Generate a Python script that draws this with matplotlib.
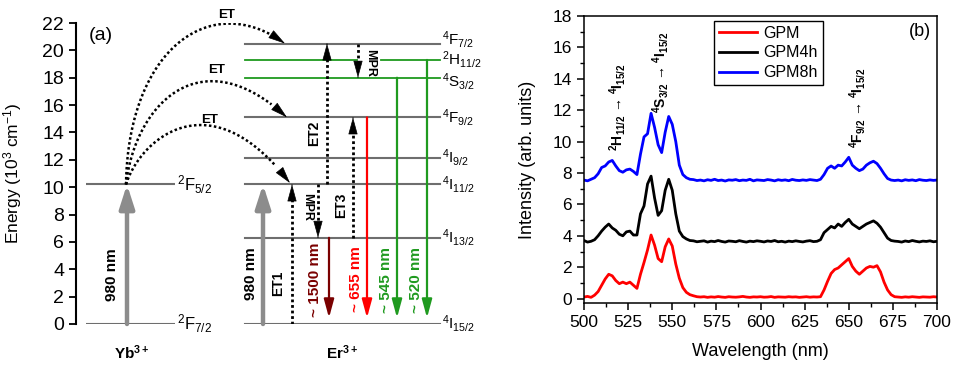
import numpy as np
import matplotlib.pyplot as plt

plt.rcParams['font.family'] = ['Liberation Sans', 'DejaVu Sans']
plt.rcParams['mathtext.default'] = 'regular'

# ---- energy levels (10^3 cm^-1) ----
yb_levels = [0.0, 10.2]
yb_names = [r'$^2$F$_{7/2}$', r'$^2$F$_{5/2}$']
er_levels = [0.0, 6.3, 10.2, 12.15, 15.1, 18.0, 19.3, 20.5]
er_names = [r'$^4$I$_{15/2}$', r'$^4$I$_{13/2}$', r'$^4$I$_{11/2}$', r'$^4$I$_{9/2}$',
            r'$^4$F$_{9/2}$', r'$^4$S$_{3/2}$', r'$^2$H$_{11/2}$', r'$^4$F$_{7/2}$']
emission_labels = ['~ 1500 nm', '~ 655 nm', '~ 545 nm', '~ 520 nm']

# ---- emission spectra ----
wavelength = np.arange(500, 702, 2)
gpm = [0.10, 0.14, 0.08, 0.22, 0.45, 0.85, 1.25, 1.55, 1.45, 1.15,
       0.95, 1.05, 0.95, 1.05, 0.85, 0.65, 1.55, 2.30, 3.10, 4.05,
       3.40, 2.55, 2.35, 3.30, 3.80, 3.35, 2.20, 1.30, 0.70, 0.40,
       0.25, 0.18, 0.12,
       0.10, 0.12, 0.08, 0.11, 0.09, 0.13, 0.10, 0.08, 0.12, 0.10,
       0.09, 0.11, 0.14, 0.10, 0.08, 0.11, 0.10, 0.12, 0.09, 0.10,
       0.13, 0.08, 0.11, 0.10, 0.09, 0.12, 0.10, 0.11, 0.08, 0.10,
       0.12, 0.09, 0.11, 0.10,
       0.12, 0.55, 1.10, 1.60, 1.85, 1.95, 2.15, 2.35, 2.55, 2.05,
       1.75, 1.55, 1.75, 1.95, 2.05, 2.00, 2.10, 1.70, 1.05, 0.55,
       0.25, 0.12,
       0.10, 0.08, 0.11, 0.09, 0.12, 0.10, 0.08, 0.11, 0.10, 0.09, 0.12, 0.10]
gpm4h = [3.70, 3.60, 3.65, 3.75, 4.00, 4.30, 4.55, 4.75, 4.50, 4.35,
         4.10, 4.00, 4.25, 4.30, 4.05, 4.05, 5.40, 5.90, 7.30, 7.80,
         6.40, 5.30, 5.60, 6.90, 7.60, 6.90, 5.40, 4.30, 3.95, 3.80,
         3.70, 3.68, 3.62,
         3.65, 3.68, 3.60, 3.66, 3.63, 3.70, 3.64, 3.60, 3.67, 3.65,
         3.62, 3.69, 3.64, 3.60, 3.66, 3.63, 3.68, 3.65, 3.61, 3.67,
         3.64, 3.70, 3.62, 3.65, 3.60, 3.66, 3.63, 3.68, 3.64, 3.61,
         3.66, 3.69, 3.63, 3.65,
         3.75, 4.20, 4.40, 4.60, 4.50, 4.75, 4.60, 4.85, 5.05, 4.75,
         4.60, 4.45, 4.60, 4.75, 4.85, 4.95, 4.80, 4.55, 4.20, 3.85,
         3.70, 3.66,
         3.64, 3.60, 3.67, 3.63, 3.70, 3.65, 3.61, 3.66, 3.64, 3.68, 3.62, 3.65]
gpm8h = [7.55, 7.50, 7.60, 7.70, 7.95, 8.35, 8.45, 8.70, 8.80, 8.45,
         8.15, 8.05, 8.20, 8.25, 8.10, 7.90, 9.20, 10.30, 10.50, 11.80,
         10.90, 9.80, 9.30, 10.60, 11.60, 11.10, 10.00, 8.50, 7.90, 7.70,
         7.60, 7.58, 7.52,
         7.55, 7.50, 7.57, 7.53, 7.60, 7.52, 7.55, 7.49, 7.56, 7.54,
         7.58, 7.51, 7.55, 7.53, 7.60, 7.50, 7.56, 7.54, 7.52, 7.58,
         7.55, 7.50, 7.57, 7.53, 7.56, 7.51, 7.59, 7.54, 7.52, 7.56,
         7.53, 7.58, 7.55, 7.52,
         7.60, 7.90, 8.30, 8.45, 8.30, 8.50, 8.45, 8.70, 9.00, 8.50,
         8.30, 8.15, 8.25, 8.50, 8.65, 8.75, 8.60, 8.30, 7.95, 7.65,
         7.55, 7.52,
         7.55, 7.50, 7.57, 7.53, 7.56, 7.51, 7.58, 7.54, 7.52, 7.56, 7.53, 7.55]
series_names = ['GPM', 'GPM4h', 'GPM8h']
series_colors = ['#ff0000', '#000000', '#0000ff']

GREY = '#6e6e6e'
GREEN = '#1f9a1f'
RED = '#ff0000'
DARKRED = '#7a0000'


def solid_arrow(ax, x, y0, y1, color, lw, hw, hl):
    ax.annotate('', xy=(x, y1), xytext=(x, y0),
                arrowprops=dict(arrowstyle='-|>,head_width={},head_length={}'.format(hw, hl),
                                color=color, lw=lw, shrinkA=0, shrinkB=0))


def dotted_arrow(ax, x, y0, y1, hl_data=0.9):
    # dotted shaft, solid head
    sign = 1 if y1 > y0 else -1
    ax.plot([x, x], [y0, y1 - sign * hl_data], ls=(0, (1, 1)), lw=2.0, color='k')
    ax.annotate('', xy=(x, y1), xytext=(x, y1 - sign * 0.05),
                arrowprops=dict(arrowstyle='-|>,head_width=0.3,head_length=1.1',
                                color='k', lw=0.5, shrinkA=0, shrinkB=0))


def et_curve(ax, p0, p1, p2, p3):
    t = np.linspace(0, 1, 200)[:, None]
    pts = ((1 - t) ** 3 * np.array(p0) + 3 * t * (1 - t) ** 2 * np.array(p1)
           + 3 * t ** 2 * (1 - t) * np.array(p2) + t ** 3 * np.array(p3))
    ax.plot(pts[:-12, 0], pts[:-12, 1], ls=(0, (1, 1)), lw=1.8, color='k')
    ax.annotate('', xy=tuple(pts[-1]), xytext=tuple(pts[-8]),
                arrowprops=dict(arrowstyle='-|>,head_width=0.3,head_length=1.1',
                                color='k', lw=0.5, shrinkA=0, shrinkB=0))


fig = plt.figure(figsize=(9.6, 3.65), dpi=100)

# ================= (a) energy level diagram =================
ax = fig.add_axes([76 / 960, 1 - 324 / 365, 384 / 960, 301 / 365])
ax.set_xlim(76, 460)
ax.set_ylim(0, 22)
for s in ['top', 'right', 'bottom']:
    ax.spines[s].set_visible(False)
ax.spines['left'].set_linewidth(1.5)
ax.set_xticks([])
ax.set_yticks(np.arange(0, 23, 2))
ax.tick_params(axis='y', direction='out', length=5, width=1.3, labelsize=14)
ax.set_ylabel(r'Energy (10$^3$ cm$^{-1}$)', fontsize=12.5)
ax.yaxis.set_label_coords(-0.135, 0.5)
ax.text(101, 21.1, '(a)', fontsize=14, ha='center', va='center')

# Yb levels
for e, name in zip(yb_levels, yb_names):
    ax.plot([86, 175], [e, e], color=GREY, lw=1.5, solid_capstyle='butt')
    ax.text(177, e, name, fontsize=12, va='center', ha='left', clip_on=False)

# Er levels; the three top labels are spread a little so they stack cleanly
label_shift = {r'$^4$F$_{7/2}$': 0.3, r'$^4$S$_{3/2}$': -0.25}
for e, name in zip(er_levels, er_names):
    if name in (r'$^4$S$_{3/2}$', r'$^2$H$_{11/2}$'):
        col = GREEN
    else:
        col = GREY
    if name == r'$^2$H$_{11/2}$':
        ax.plot([245, 357], [e, e], color=col, lw=1.3)
        ax.plot([381, 440], [e, e], color=col, lw=1.3)
    else:
        ax.plot([245, 440], [e, e], color=col, lw=1.5 if col == GREY else 1.3)
    ax.text(442, e + label_shift.get(name, 0), name, fontsize=11, va='center', ha='left',
            clip_on=False)

# pump arrows
solid_arrow(ax, 127, yb_levels[0], yb_levels[1], '#8c8c8c', 3.2, 0.45, 1.4)
ax.text(112, 3.6, '980 nm', rotation=90, fontsize=11, fontweight='bold', ha='center', va='center')
solid_arrow(ax, 263, er_levels[0], er_levels[2], '#8c8c8c', 3.2, 0.45, 1.4)
ax.text(251, 3.65, '980 nm', rotation=90, fontsize=11, fontweight='bold', ha='center', va='center')

# energy transfer from Yb
et_curve(ax, (126, 10.2), (128, 20.0), (210, 24.5), (285, er_levels[7]))
et_curve(ax, (126, 10.2), (135, 16.0), (200, 21.0), (287, er_levels[4]))
et_curve(ax, (126, 10.2), (140, 13.5), (210, 18.0), (290, er_levels[2] + 0.1))
ax.text(227, 22.6, 'ET', fontsize=9.5, fontweight='bold', ha='center', va='center')
ax.text(217, 18.55, 'ET', fontsize=9.5, fontweight='bold', ha='center', va='center')
ax.text(210, 14.9, 'ET', fontsize=9.5, fontweight='bold', ha='center', va='center')

# ET / MPR steps in Er
dotted_arrow(ax, 292, er_levels[0], er_levels[2])
ax.text(278, 3.0, 'ET1', rotation=90, fontsize=10, fontweight='bold', ha='center', va='center')
dotted_arrow(ax, 327, er_levels[2], er_levels[7])
ax.text(314, 13.9, 'ET2', rotation=90, fontsize=10, fontweight='bold', ha='center', va='center')
dotted_arrow(ax, 353, er_levels[1], er_levels[4])
ax.text(341, 8.7, 'ET3', rotation=90, fontsize=10, fontweight='bold', ha='center', va='center')
dotted_arrow(ax, 318, er_levels[2], er_levels[1])
ax.text(307, 8.55, 'MPR', rotation=-90, fontsize=9, fontweight='bold', ha='center', va='center')
dotted_arrow(ax, 358, er_levels[7], er_levels[5])
ax.text(370, 19.1, 'MPR', rotation=-90, fontsize=9, fontweight='bold', ha='center', va='center')

# emissions to ground state
emit_x = [329, 367, 397, 427]
emit_from = [er_levels[1], er_levels[4], er_levels[5], er_levels[6]]
emit_col = [DARKRED, RED, GREEN, GREEN]
text_x = [315, 356, 386, 416]
for x, e, c, tx, lab in zip(emit_x, emit_from, emit_col, text_x, emission_labels):
    solid_arrow(ax, x, e, 0.45, c, 1.6, 0.3, 1.1)
    ax.text(tx, 3.25, lab, rotation=90, fontsize=11, fontweight='bold', color=c,
            ha='center', va='center')

ax.text(132, -2.1, r'Yb$^{3+}$', fontsize=11, fontweight='bold', ha='center', va='center', clip_on=False)
ax.text(342, -2.1, r'Er$^{3+}$', fontsize=11, fontweight='bold', ha='center', va='center', clip_on=False)

# ================= (b) spectra =================
bx = fig.add_axes([584 / 960, 1 - 303 / 365, 353 / 960, 287 / 365])
for ys, name, col in zip([gpm, gpm4h, gpm8h], series_names, series_colors):
    bx.plot(wavelength, ys, color=col, lw=2.0, label=name)
bx.set_xlim(500, 700)
bx.set_ylim(-0.28, 18)
bx.set_xticks(np.arange(500, 701, 25))
bx.set_xticks(np.arange(500, 701, 12.5), minor=True)
bx.set_yticks(np.arange(0, 19, 2))
bx.set_yticks(np.arange(0, 19, 1), minor=True)
bx.tick_params(which='major', direction='out', length=5, width=1.1, labelsize=12.5)
bx.tick_params(which='minor', direction='out', length=3, width=1.0)
for s in bx.spines.values():
    s.set_linewidth(1.1)
bx.set_xlabel('Wavelength (nm)', fontsize=13)
bx.set_ylabel('Intensity (arb. units)', fontsize=13)
bx.xaxis.set_label_coords(0.5, -0.14)
bx.yaxis.set_label_coords(-0.135, 0.5)

leg = bx.legend(loc='upper left', bbox_to_anchor=(0.368, 0.983), borderaxespad=0,
                fontsize=11.5, frameon=True, fancybox=False, framealpha=1,
                handlelength=2.4, labelspacing=0.3, borderpad=0.3, handletextpad=0.4)
leg.get_frame().set_edgecolor('k')
leg.get_frame().set_linewidth(1.0)

bx.text(518.7, 9.4, r'$^2$H$_{11/2}$ → $^4$I$_{15/2}$', rotation=90, fontsize=10,
        fontweight='bold', ha='center', va='bottom')
bx.text(543.6, 11.85, r'$^4$S$_{3/2}$ → $^4$I$_{15/2}$', rotation=90, fontsize=10,
        fontweight='bold', ha='center', va='bottom')
bx.text(655.2, 9.6, r'$^4$F$_{9/2}$ → $^4$I$_{15/2}$', rotation=90, fontsize=10,
        fontweight='bold', ha='center', va='bottom')
bx.text(690.5, 17.0, '(b)', fontsize=13, ha='center', va='center')

fig.savefig('out.png', dpi=100)
